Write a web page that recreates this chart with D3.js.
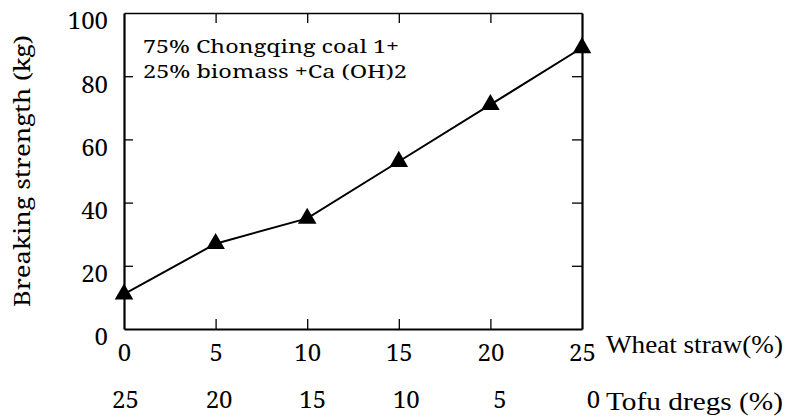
<!DOCTYPE html>
<html>
<head>
<meta charset="utf-8">
<script src="https://cdn.jsdelivr.net/npm/d3@7"></script>
<style>
  body { margin: 0; background: #fff; }
  svg { display: block; }
</style>
</head>
<body>
<svg id="chart"></svg>
<script>
// data
const wheatStraw = [0, 5, 10, 15, 20, 25];
const tofuDregs = [25, 20, 15, 10, 5, 0];
const strength = [11, 27, 35, 53, 71, 89];
const yTicks = [0, 20, 40, 60, 80, 100];
const innerTicks = [20, 40, 60, 80];
const xInnerTicks = [5, 10, 15, 20];
const noteLines = ['75% Chongqing coal 1+', '25% biomass +Ca (OH)2'];

const width = 803, height = 420;
const margin = {top: 13, right: 221, bottom: 91, left: 124};
const century = 'Noto Serif';
const times = 'Liberation Serif';

let svg = d3.select('#chart')
    .attr('width', width)
    .attr('height', height);

let x = d3.scaleLinear()
    .domain([0, 25])
    .range([margin.left, width - margin.right]);

// the second label row sits a touch wider than the first
let x2 = d3.scaleLinear()
    .domain([25, 0])
    .range([margin.left + 1, width - margin.right + 11]);

let y = d3.scaleLinear()
    .domain([0, 100])
    .range([height - margin.bottom, margin.top]);

// left axis, labels + inward ticks
let yAxis = svg.append('g')
    .attr('transform', `translate(${margin.left},0)`)
    .call(d3.axisLeft(y).tickValues(yTicks).tickSizeInner(0).tickSizeOuter(0).tickPadding(16));
yAxis.select('.domain').attr('stroke', '#000').attr('stroke-width', 2.2);
yAxis.selectAll('text')
    .attr('dy', '0.66em')
    .attr('fill', '#000')
    .style('font-family', century)
    .style('font-size', '24px');

svg.append('g')
    .attr('transform', `translate(${margin.left},0)`)
    .call(d3.axisRight(y).tickValues(innerTicks).tickSize(9).tickFormat(''))
    .call(g => g.select('.domain').remove())
    .selectAll('line').attr('stroke', '#000').attr('stroke-width', 1.3);

// right axis
let rAxis = svg.append('g')
    .attr('transform', `translate(${width - margin.right},0)`)
    .call(d3.axisLeft(y).tickValues(innerTicks).tickSizeInner(10).tickSizeOuter(0).tickFormat(''));
rAxis.select('.domain').attr('stroke', '#000').attr('stroke-width', 2.2);
rAxis.selectAll('line').attr('stroke', '#000').attr('stroke-width', 1.3);

// top axis
let tAxis = svg.append('g')
    .attr('transform', `translate(0,${margin.top})`)
    .call(d3.axisBottom(x).tickValues(xInnerTicks).tickSizeInner(10).tickSizeOuter(0).tickFormat(''));
tAxis.select('.domain').attr('stroke', '#000').attr('stroke-width', 1.6);
tAxis.selectAll('line').attr('stroke', '#000').attr('stroke-width', 1.3);

// bottom axis
let bAxis = svg.append('g')
    .attr('transform', `translate(0,${height - margin.bottom})`)
    .call(d3.axisTop(x).tickValues(xInnerTicks).tickSizeInner(10).tickSizeOuter(0).tickFormat(''));
bAxis.select('.domain').attr('stroke', '#000').attr('stroke-width', 2.2);
bAxis.selectAll('line').attr('stroke', '#000').attr('stroke-width', 1.3);

let bLabels = svg.append('g')
    .attr('transform', `translate(0,${height - margin.bottom})`)
    .call(d3.axisBottom(x).tickValues(wheatStraw).tickSize(0).tickPadding(15));
bLabels.select('.domain').remove();
bLabels.selectAll('text')
    .attr('fill', '#000')
    .style('font-family', century)
    .style('font-size', '24px');

let tofuLabels = svg.append('g')
    .attr('transform', `translate(0,${height - margin.bottom + 62})`)
    .call(d3.axisBottom(x2).tickValues(tofuDregs).tickSize(0).tickPadding(0));
tofuLabels.select('.domain').remove();
tofuLabels.selectAll('text')
    .attr('fill', '#000')
    .style('font-family', century)
    .style('font-size', '24px');

// axis names
svg.append('text')
    .attr('x', 606)
    .attr('y', 353)
    .style('font-family', times)
    .style('font-size', '25px')
    .attr('textLength', 177)
    .attr('lengthAdjust', 'spacingAndGlyphs')
    .text('Wheat straw(%)');

svg.append('text')
    .attr('x', 606)
    .attr('y', 410)
    .style('font-family', times)
    .style('font-size', '25px')
    .attr('textLength', 177)
    .attr('lengthAdjust', 'spacingAndGlyphs')
    .text('Tofu dregs (%)');

svg.append('text')
    .attr('transform', 'translate(30,171) rotate(-90)')
    .attr('text-anchor', 'middle')
    .style('font-family', century)
    .style('font-size', '21px')
    .attr('textLength', 272)
    .attr('lengthAdjust', 'spacingAndGlyphs')
    .text('Breaking strength (kg)');

// note in the upper left
svg.append('g')
    .selectAll('text')
    .data(noteLines)
    .join('text')
    .attr('x', 143)
    .attr('y', (d, i) => 53 + i * 25)
    .style('font-family', century)
    .style('font-size', '18px')
    .attr('textLength', (d, i) => i ? 264 : 256)
    .attr('lengthAdjust', 'spacingAndGlyphs')
    .text(d => d);

// series
let pts = wheatStraw.map((w, i) => [w, strength[i]]);

svg.append('path')
    .datum(pts)
    .attr('fill', 'none')
    .attr('stroke', '#000')
    .attr('stroke-width', 2)
    .attr('d', d3.line().x(d => x(d[0])).y(d => y(d[1])));

svg.append('g')
    .selectAll('path')
    .data(pts)
    .join('path')
    .attr('transform', d => `translate(${x(d[0])},${y(d[1])})`)
    .attr('d', d3.symbol(d3.symbolTriangle, 150))
    .attr('fill', '#000');
</script>
</body>
</html>
